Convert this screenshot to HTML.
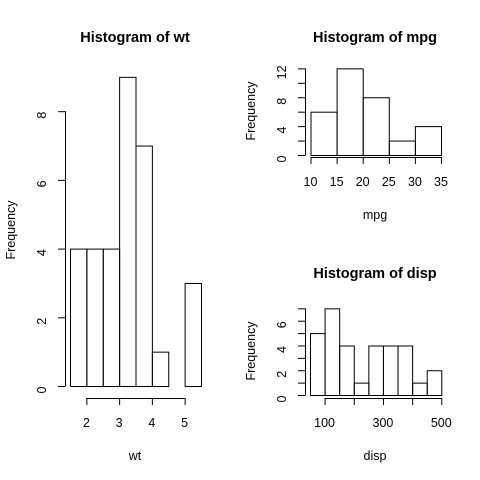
<!DOCTYPE html>
<html><head><meta charset="utf-8"><style>
html,body{margin:0;padding:0;background:#fff}
svg{display:block}
text{font-family:"Liberation Sans",Arial,sans-serif;fill:#000}
</style></head><body>
<svg id="c" width="480" height="480" viewBox="0 0 480 480"></svg>
<script>
const wtBreaks=[1.5,2,2.5,3,3.5,4,4.5,5,5.5];
const wtCounts=[4,4,4,9,7,1,0,3];
const wtXTicks=[2,3,4,5];
const wtYTicks=[0,2,4,6,8];
const mpgBreaks=[10,15,20,25,30,35];
const mpgCounts=[6,12,8,2,4];
const mpgXTicks=[10,15,20,25,30,35];
const mpgYTicks=[0,2,4,6,8,10,12];
const mpgYLabels=[0,4,8,12];
const dispBreaks=[50,100,150,200,250,300,350,400,450,500];
const dispCounts=[5,7,4,1,4,4,4,1,2];
const dispXTicks=[100,200,300,400,500];
const dispXLabels=[100,300,500];
const dispYTicks=[0,1,2,3,4,5,6,7];
const dispYLabels=[0,2,4,6];

const svg=document.getElementById('c');
const NS='http://www.w3.org/2000/svg';
function el(tag,attrs,parent){const e=document.createElementNS(NS,tag);for(const k in attrs)e.setAttribute(k,attrs[k]);(parent||svg).appendChild(e);return e;}
function txt(s,x,y,size,parent,bold,rot){const t=el('text',{x:x,y:y,'font-size':size,'text-anchor':'middle'},parent);if(bold)t.setAttribute('font-weight','bold');if(rot)t.setAttribute('transform','rotate(-90 '+x+' '+y+')');t.textContent=s;return t;}

function panel(cfg){
  const g=el('g',{});
  
  
  const sx=v=>cfg.x0+(v-cfg.xv0)*(cfg.x1-cfg.x0)/(cfg.xv1-cfg.xv0);
  const sy=v=>cfg.y0-v*cfg.ppu;
  for(let i=0;i<cfg.counts.length;i++){
    const x0=sx(cfg.breaks[i]),x1=sx(cfg.breaks[i+1]),y=sy(cfg.counts[i]);
    const r=el('rect',{x:x0+0.5,y:y+0.5,width:x1-x0,height:sy(0)-y,fill:'none',stroke:'#000','stroke-width':1},g);
    
    
  }
  const ya=el('g',{},g);
  
  
  const yt=cfg.yTicks;
  el('line',{x1:cfg.ax+0.5,x2:cfg.ax+0.5,y1:sy(yt[0]),y2:sy(yt[yt.length-1]),stroke:'#000'},ya);
  yt.forEach(v=>el('line',{x1:cfg.ax-7,x2:cfg.ax+0.5,y1:sy(v)+0.5,y2:sy(v)+0.5,stroke:'#000'},ya));
  cfg.yLabels.forEach(v=>txt(String(v),cfg.ax-19,sy(v)+4,12.5,ya,false,true));
  const xa=el('g',{},g);
  
  
  const xt=cfg.xTicks;
  el('line',{x1:sx(xt[0]),x2:sx(xt[xt.length-1]),y1:cfg.ay+0.5,y2:cfg.ay+0.5,stroke:'#000'},xa);
  xt.forEach(v=>el('line',{x1:sx(v)+0.5,x2:sx(v)+0.5,y1:cfg.ay,y2:cfg.ay+7,stroke:'#000'},xa));
  cfg.xLabels.forEach(v=>txt(String(v),sx(v),cfg.ay+29,12.5,xa));
  const t=txt(cfg.title,cfg.tx,cfg.ty,14.5,g,true);
  
  
  const xl=txt(cfg.short,cfg.tx,cfg.ay+62,12.5,g);
  
  
  const yl=txt('Frequency',cfg.ax-50,cfg.ylY,12.5,g,false,true);
  
  
}
panel({name:'wt-histogram',short:'wt',title:'Histogram of wt',breaks:wtBreaks,counts:wtCounts,
  x0:70,x1:201,xv0:1.5,xv1:5.5,y0:386,ppu:34.35,ax:65,ay:398,
  xTicks:wtXTicks,xLabels:wtXTicks,yTicks:wtYTicks,yLabels:wtYTicks,tx:135,ty:42,ylY:230});
panel({name:'mpg-histogram',short:'mpg',title:'Histogram of mpg',breaks:mpgBreaks,counts:mpgCounts,
  x0:310.5,x1:441,xv0:10,xv1:35,y0:155,ppu:7.22,ax:305,ay:157,
  xTicks:mpgXTicks,xLabels:mpgXTicks,yTicks:mpgYTicks,yLabels:mpgYLabels,tx:375,ty:42,ylY:111});
panel({name:'disp-histogram',short:'disp',title:'Histogram of disp',breaks:dispBreaks,counts:dispCounts,
  x0:310,x1:441.3,xv0:50,xv1:500,y0:395,ppu:12.38,ax:305,ay:398,
  xTicks:dispXTicks,xLabels:dispXLabels,yTicks:dispYTicks,yLabels:dispYLabels,tx:375,ty:278,ylY:351});
</script>
</body></html>
